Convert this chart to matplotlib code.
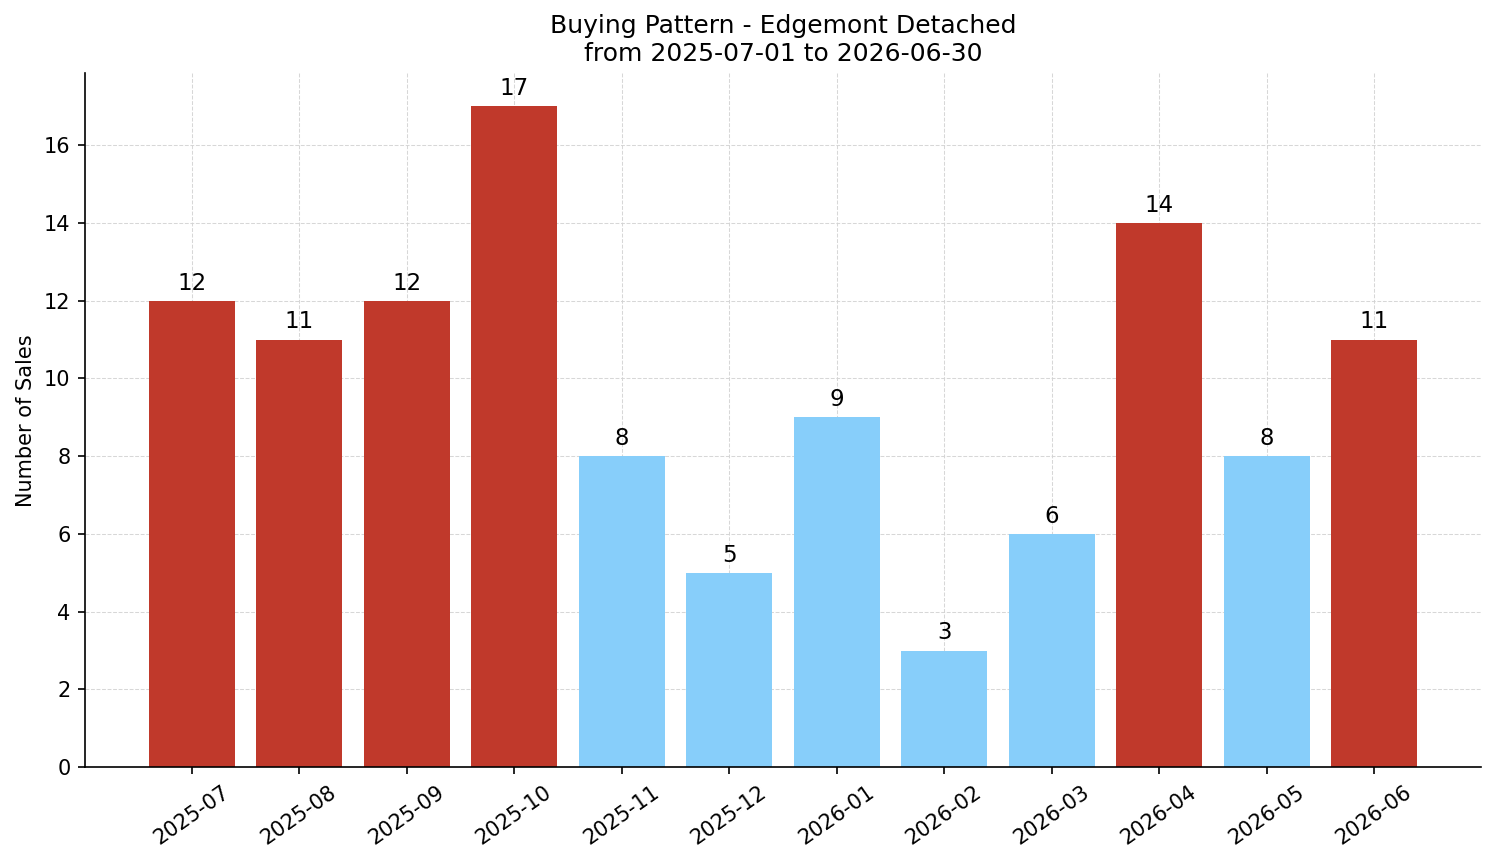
import matplotlib.pyplot as plt

months = ['2025-07', '2025-08', '2025-09', '2025-10', '2025-11', '2025-12',
          '2026-01', '2026-02', '2026-03', '2026-04', '2026-05', '2026-06']
sales = [12, 11, 12, 17, 8, 5, 9, 3, 6, 14, 8, 11]
threshold = 10

colors = ['#c0392b' if s >= threshold else '#87cefa' for s in sales]

fig, ax = plt.subplots(figsize=(1494 / 150, 863 / 150), dpi=150)
x = list(range(len(months)))
bars = ax.bar(x, sales, color=colors, width=0.8)
ax.bar_label(bars, padding=3, fontsize=11)

ax.set_xticks(x)
ax.set_xticklabels(months, rotation=35, fontsize=10)
ax.tick_params(axis='y', labelsize=10)
ax.set_ylabel('Number of Sales', fontsize=10)
ax.set_title('Buying Pattern - Edgemont Detached\nfrom 2025-07-01 to 2026-06-30', fontsize=12)
ax.grid(color='lightgrey', linestyle='--', linewidth=0.5, alpha=0.9)
ax.set_axisbelow(True)
ax.spines['top'].set_visible(False)
ax.spines['right'].set_visible(False)

plt.subplots_adjust(left=0.057, right=0.991, top=0.915, bottom=0.111)
plt.savefig('out.png', dpi=150)
plt.close()
